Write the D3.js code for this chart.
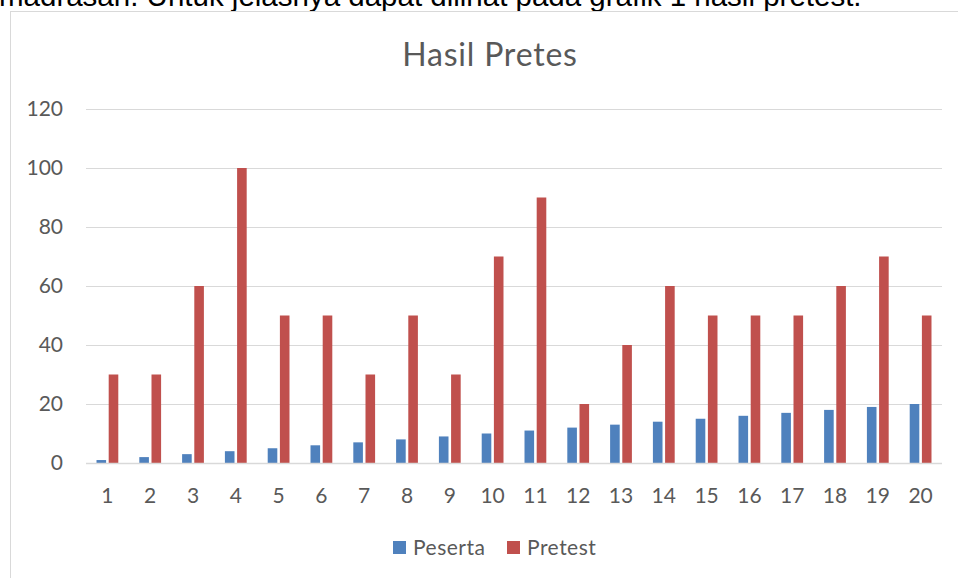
<!DOCTYPE html>
<html>
<head>
<meta charset="utf-8">
<script src="https://cdn.jsdelivr.net/npm/d3@7"></script>
<style>
  body { margin: 0; background: #fff; overflow: hidden; }
</style>
</head>
<body>
<div id="chart"></div>
<script>
const categories = ['1','2','3','4','5','6','7','8','9','10','11','12','13','14','15','16','17','18','19','20'];
const peserta = [1,2,3,4,5,6,7,8,9,10,11,12,13,14,15,16,17,18,19,20];
const pretest = [30,30,60,100,50,50,30,50,30,70,90,20,40,60,50,50,50,60,70,50];
const yTicks = [0,20,40,60,80,100,120];
const seriesNames = ['Peserta', 'Pretest'];
const colors = ['#4F81BD', '#C0504D'];

const width = 958, height = 578;
const margin = { top: 109, right: 16, bottom: 115, left: 86 };
const font = 'Lato, "Open Sans", sans-serif';
const textColor = '#595959';
const gridColor = '#d9d9d9';

const svg = d3.select('#chart').append('svg')
  .attr('width', width)
  .attr('height', height)
  .style('position', 'absolute')
  .style('left', 0)
  .style('top', 0);

// document text above the chart (cut off at the top, as in the source page)
svg.append('text')
  .attr('x', -1)
  .attr('y', 6)
  .attr('fill', '#000')
  .attr('font-family', '"Liberation Sans", Arial, sans-serif')
  .attr('font-size', '29.5px')
  .text('madrasah. Untuk jelasnya dapat dilihat pada grafik 1 hasil pretest.');

// chart area frame (runs off the page on the right and bottom)
svg.append('rect')
  .attr('x', 10.5).attr('y', 11.5)
  .attr('width', 1000).attr('height', 600)
  .attr('fill', 'none')
  .attr('stroke', gridColor);

const x = d3.scaleBand()
  .domain(categories)
  .range([margin.left, width - margin.right]);

const y = d3.scaleLinear()
  .domain([0, 120])
  .range([height - margin.bottom, margin.top]);

// bar geometry like Excel: gap width 219%, overlap -27%
const barW = x.bandwidth() / (2 + 0.27 + 2.19);
const innerGap = barW * 0.27;

// gridlines
svg.append('g')
  .selectAll('line')
  .data(yTicks)
  .join('line')
  .attr('x1', margin.left)
  .attr('x2', width - margin.right)
  .attr('y1', d => Math.round(y(d)) + 0.5)
  .attr('y2', d => Math.round(y(d)) + 0.5)
  .attr('stroke', gridColor)
  .attr('stroke-width', 1);

// y labels
svg.append('g')
  .selectAll('text')
  .data(yTicks)
  .join('text')
  .attr('x', 63)
  .attr('y', d => y(d))
  .attr('dy', '0.35em')
  .attr('text-anchor', 'end')
  .attr('fill', textColor)
  .attr('font-family', font)
  .attr('font-size', '21px')
  .text(d => d);

// bars
const series = [peserta, pretest];
series.forEach((vals, s) => {
  svg.append('g')
    .selectAll('rect')
    .data(vals)
    .join('rect')
    .attr('x', (d, i) => {
      const c = x(categories[i]) + x.bandwidth() / 2;
      return s === 0 ? c - innerGap / 2 - barW : c + innerGap / 2;
    })
    .attr('y', d => y(d))
    .attr('width', barW)
    .attr('height', d => y(0) - y(d))
    .attr('fill', colors[s]);
});

// baseline on top of bars
svg.append('line')
  .attr('x1', margin.left)
  .attr('x2', width - margin.right)
  .attr('y1', Math.round(y(0)) + 0.5)
  .attr('y2', Math.round(y(0)) + 0.5)
  .attr('stroke', gridColor)
  .attr('stroke-width', 1.5);

// x labels
svg.append('g')
  .selectAll('text')
  .data(categories)
  .join('text')
  .attr('x', d => x(d) + x.bandwidth() / 2)
  .attr('y', 496)
  .attr('dy', '0.35em')
  .attr('text-anchor', 'middle')
  .attr('fill', textColor)
  .attr('font-family', font)
  .attr('font-size', '21px')
  .text(d => d);

// title
svg.append('text')
  .attr('x', 490)
  .attr('y', 55)
  .attr('dy', '0.35em')
  .attr('text-anchor', 'middle')
  .attr('fill', textColor)
  .attr('font-family', font)
  .attr('font-size', '32px')
  .attr('letter-spacing', '0.8px')
  .text('Hasil Pretes');

// legend
const legendX = [393, 507];
const legend = svg.append('g');
seriesNames.forEach((name, i) => {
  legend.append('rect')
    .attr('x', legendX[i])
    .attr('y', 541)
    .attr('width', 13)
    .attr('height', 13)
    .attr('fill', colors[i]);
  legend.append('text')
    .attr('x', legendX[i] + 20)
    .attr('y', 548)
    .attr('dy', '0.35em')
    .attr('fill', textColor)
    .attr('font-family', font)
    .attr('font-size', '21px')
    .attr('letter-spacing', '0.5px')
    .text(name);
});
</script>
</body>
</html>
